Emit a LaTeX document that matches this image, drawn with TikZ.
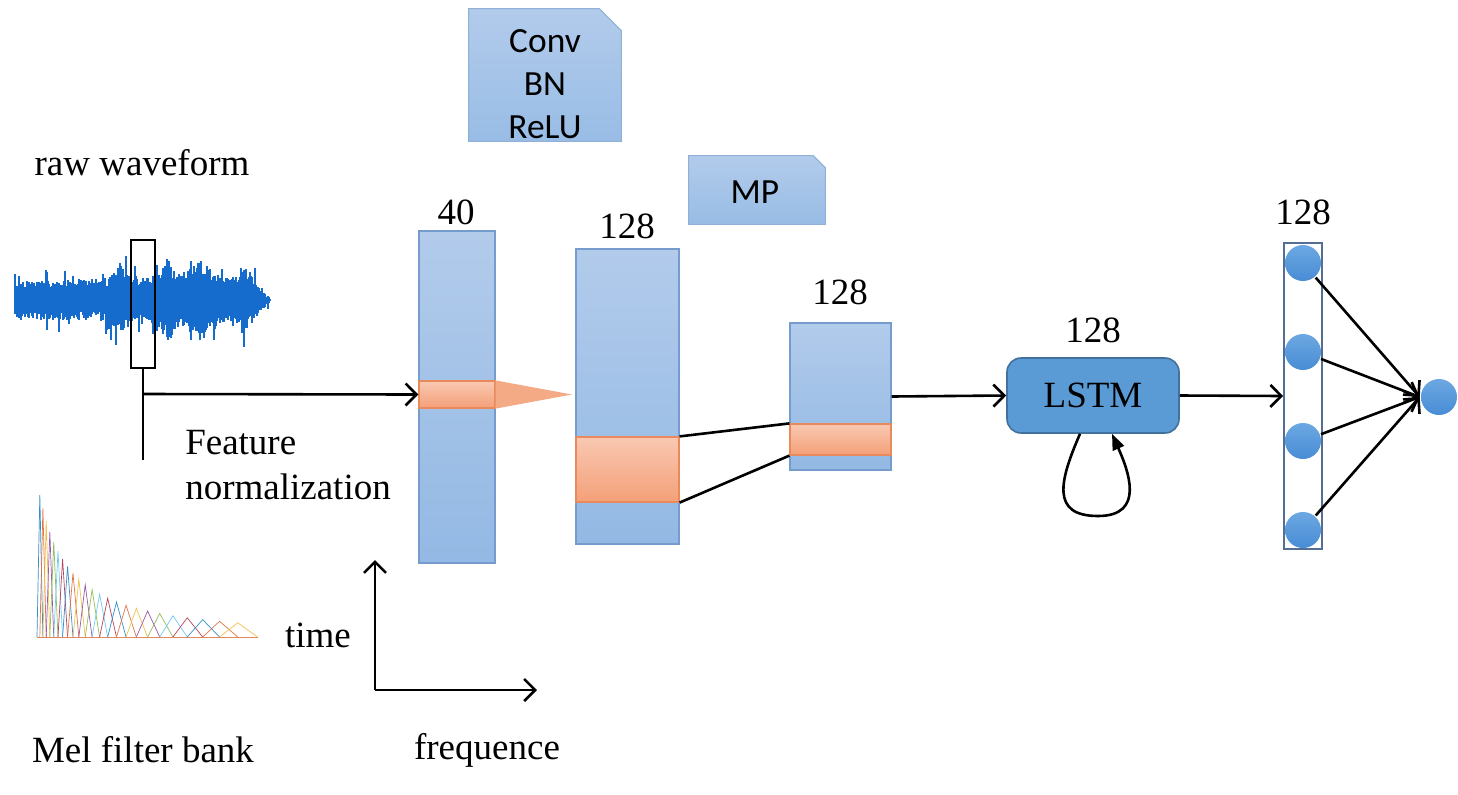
\documentclass[tikz,border=0pt]{standalone}
\usepackage{fontspec}
\setmainfont{Liberation Serif}
\newfontfamily\calibri{Carlito}
\usetikzlibrary{calc}
\usetikzlibrary{arrows.meta}

\definecolor{colTop}{RGB}{178,203,235}
\definecolor{colBot}{RGB}{147,185,228}
\definecolor{colEdge}{RGB}{118,156,206}
\definecolor{bandTop}{RGB}{249,200,178}
\definecolor{bandBot}{RGB}{244,160,120}
\definecolor{bandEdge}{RGB}{232,138,92}
\definecolor{lstmFill}{RGB}{91,155,213}
\definecolor{lstmEdge}{RGB}{65,113,156}
\definecolor{unitTop}{RGB}{108,168,226}
\definecolor{unitBot}{RGB}{72,140,212}
\definecolor{unitEdge}{RGB}{84,110,148}
\definecolor{wave}{RGB}{22,108,204}
\definecolor{mc0}{RGB}{0,114,189}
\definecolor{mc1}{RGB}{217,83,25}
\definecolor{mc2}{RGB}{237,177,32}
\definecolor{mc3}{RGB}{126,47,142}
\definecolor{mc4}{RGB}{119,172,48}
\definecolor{mc5}{RGB}{77,190,238}
\definecolor{mc6}{RGB}{162,20,47}

\tikzset{
  lbl/.style={font=\fontsize{18.5}{22.5}\selectfont, inner sep=0pt},
  col/.style={draw=colEdge, line width=0.6pt, top color=colTop, bottom color=colBot, inner sep=0pt},
  band/.style={draw=bandEdge, line width=0.6pt, top color=bandTop, bottom color=bandBot, inner sep=0pt},
  notefill/.style={draw=colEdge!80, line width=0.5pt, top color=colTop, bottom color=colBot!95!white},
  notetext/.style={align=center, inner sep=0pt, font=\calibri\fontsize{17.7}{21.5}\selectfont},
  unit/.style={circle, top color=unitTop, bottom color=unitBot, inner sep=0pt, minimum size=36*\u},
  link/.style={line width=1.3pt, -{Straight Barb[length=5.5pt,width=11pt]}}
}

\begin{document}
\begin{tikzpicture}[x=0.5pt,y=-0.5pt,line width=1.3pt]
\def\u{0.5pt}
\useasboundingbox (0,0) rectangle (1458,794);

% waveform
\pgfmathsetseed{11}
\foreach \i in {15,16,...,270} {
  \pgfmathsetmacro\env{(20 + 18/(1+((\i-120)/5)^2) + 20/(1+((\i-168)/6)^2) + 22/(1+((\i-200)/9)^2) + 14/(1+((\i-244)/6)^2)) * min(1,(272-\i)/22)}
  \pgfmathsetmacro\up{\env*(0.55+0.45*rnd) + 18*rnd^12}
  \pgfmathsetmacro\dn{\env*(0.55+0.45*rnd) + 18*rnd^12}
  \draw[color=wave, line width=0.7pt] (\i,300-\up) -- (\i,300+\dn);
}
\node[lbl] (raw) at (142,163) {raw waveform};
\node[draw, line width=1.3pt, minimum width=24*\u, minimum height=128*\u, inner sep=0pt] (win) at (143,304) {};
\coordinate (br) at (143,394);
\coordinate (tail) at (143,460);

% mel filter bank
\foreach \k in {1,...,24} {
  \pgfmathsetmacro\xl{37+2.83*(exp(0.081*(\k-1))-1)/0.08437}
  \pgfmathsetmacro\xc{37+2.83*(exp(0.081*\k)-1)/0.08437}
  \pgfmathsetmacro\xr{37+2.83*(exp(0.081*(\k+1))-1)/0.08437}
  \pgfmathsetmacro\h{142*exp(-0.1*(\k-1))}
  \pgfmathtruncatemacro\ci{mod(\k-1,7)}
  \draw[color=mc\ci!80, line width=0.35pt] (\xl,637) -- (\xc,637-\h) -- (\xr,637);
}
\draw[color=mc1!70, line width=0.35pt] (37,637) -- (258,637);
\node[lbl] (mel) at (143,750) {Mel filter bank};
\node[lbl] (time) at (318,635) {time};
\node[lbl, align=left] (norm) at (288,465) {Feature\\normalization};

% axes
\coordinate (o) at (375,690);
\coordinate (ya) at (375,560);
\coordinate (xa) at (537,690);
\draw[link] (o) -- (ya);
\draw[link] (o) -- (xa);
\node[lbl] (freq) at (487,750) {frequence};

% conv blocks
\node[minimum width=150*\u, minimum height=130*\u, inner sep=0pt] (conv) at (545,75) {};
\shade[notefill] (conv.south west) -- (conv.north west) -- ($(conv.north east)+(-22,0)$)
  -- ($(conv.north east)+(0,22)$) -- (conv.south east) -- cycle;
\node[notetext] (convtxt) at (545,84) {Conv\\BN\\ReLU};
\node[minimum width=134*\u, minimum height=66*\u, inner sep=0pt] (mp) at (757,190) {};
\shade[notefill] (mp.south west) -- (mp.north west) -- ($(mp.north east)+(-12,0)$)
  -- ($(mp.north east)+(0,12)$) -- (mp.south east) -- cycle;
\node[notetext] (mptxt) at (755,192) {MP};

\node[col, minimum width=76*\u, minimum height=332*\u] (c40) at (457,397) {};
\node[lbl] (n40) at (456,212) {40};
\node[band, minimum width=76*\u, minimum height=27*\u] (b40) at (457,394.5) {};
\coordinate (tip) at (572,394.5);
\fill[bandBot!90!white] (b40.north east) -- (tip) -- (b40.south east) -- cycle;

\node[col, minimum width=103*\u, minimum height=295*\u] (c1) at (627.5,396.5) {};
\node[lbl] (n1) at (627,226) {128};
\node[band, minimum width=103*\u, minimum height=65*\u] (b1) at (627.5,469.5) {};

\node[col, minimum width=101*\u, minimum height=147*\u] (c2) at (840.5,396.5) {};
\node[lbl] (n2) at (840,292) {128};
\node[band, minimum width=101*\u, minimum height=31*\u] (b2) at (840.5,439.5) {};

\draw (b1.north east) -- (b2.north west);
\draw (b1.south east) -- (b2.south west);

% input line
\draw (win.south) -- (tail);
\draw[link] (br) -- (b40.west);

% lstm
\node[draw=lstmEdge, fill=lstmFill, line width=0.8pt, rounded corners=7pt, minimum width=172*\u, minimum height=75*\u,
  font=\fontsize{18.5}{22}\selectfont] (lstm) at (1093,395.5) {LSTM};
\node[lbl] (n3) at (1093,330) {128};
\draw[link] (c2.east) -- (lstm.west);
\draw[-{Triangle[length=8pt,width=6pt]}] ($(lstm.south)+(-13,0)$) .. controls (1060,480) and (1050,516) .. (1098,516)
  .. controls (1146,516) and (1128,470) .. ($(lstm.south)+(19,0)$);

% dense layer
\node[draw=unitEdge, line width=0.8pt, minimum width=38*\u, minimum height=306*\u, inner sep=0pt] (fc) at (1303,396) {};
\node[lbl] (n4) at (1303,212) {128};
\foreach \j/\y in {1/263,2/352,3/441,4/530}
  \node[unit] (u\j) at (1303,\y) {};
\node[unit] (out) at (1439,397) {};
\draw[link] (lstm.east) -- (fc.west);
\foreach \j in {1,...,4}
  \draw[link] (u\j) -- (out.west);
\end{tikzpicture}
\end{document}
